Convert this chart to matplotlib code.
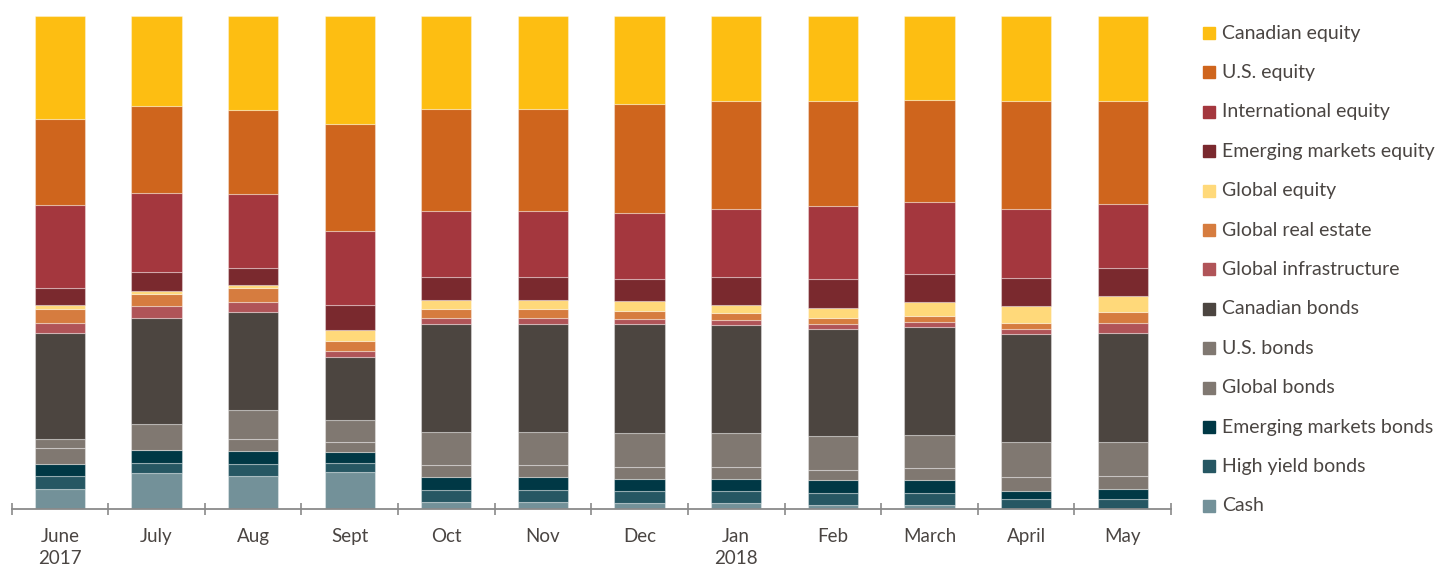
import numpy as np
import matplotlib.pyplot as plt
from matplotlib.patches import Rectangle

plt.rcParams['font.family'] = ['Lato', 'DejaVu Sans']

# Months on the x axis
months = ['June\n2017', 'July', 'Aug', 'Sept', 'Oct', 'Nov', 'Dec',
          'Jan\n2018', 'Feb', 'March', 'April', 'May']

# Asset mix in %, listed bottom to top of each bar
cash            = [4.1, 7.2, 6.6, 7.4, 1.4, 1.4, 1.2, 1.2, 0.9, 0.8, 0.0, 0.0]
high_yield      = [2.6, 2.2, 2.5, 2.0, 2.4, 2.4, 2.5, 2.5, 2.3, 2.5, 2.0, 2.0]
em_bonds        = [2.4, 2.6, 2.6, 2.1, 2.6, 2.6, 2.3, 2.3, 2.6, 2.5, 1.7, 2.0]
global_bonds    = [3.2, 0.0, 2.5, 2.0, 2.5, 2.5, 2.5, 2.5, 2.1, 2.5, 2.7, 2.6]
us_bonds        = [1.9, 5.2, 5.9, 4.5, 6.8, 6.8, 7.0, 7.0, 7.0, 6.8, 7.2, 7.0]
cdn_bonds       = [21.6, 21.6, 19.9, 12.8, 22.0, 22.0, 22.0, 22.0, 21.7, 21.8, 22.0, 22.2]
global_infra    = [2.0, 2.4, 2.1, 1.3, 1.2, 1.2, 1.0, 1.0, 1.0, 1.2, 1.0, 2.0]
global_re       = [2.8, 2.4, 2.7, 2.0, 1.8, 1.8, 1.8, 1.4, 1.2, 1.1, 1.3, 2.1]
global_equity   = [0.7, 0.6, 0.7, 2.2, 1.7, 1.7, 1.9, 1.7, 2.0, 2.8, 3.4, 3.4]
em_equity       = [3.5, 3.9, 3.4, 5.1, 4.7, 4.7, 4.5, 5.6, 5.8, 5.8, 5.6, 5.5]
intl_equity     = [16.8, 16.0, 15.0, 14.9, 13.4, 13.4, 13.4, 13.9, 14.9, 14.6, 14.1, 13.0]
us_equity       = [17.6, 17.6, 17.2, 21.8, 20.9, 20.9, 22.2, 22.0, 21.3, 20.8, 22.0, 21.0]
cdn_equity      = [20.8, 18.2, 19.0, 21.8, 18.8, 18.8, 17.8, 17.2, 17.2, 17.0, 17.2, 17.2]

labels = ['Cash', 'High yield bonds', 'Emerging markets bonds', 'Global bonds',
          'U.S. bonds', 'Canadian bonds', 'Global infrastructure',
          'Global real estate', 'Global equity', 'Emerging markets equity',
          'International equity', 'U.S. equity', 'Canadian equity']
colors = ['#739199', '#265763', '#003845', '#807871', '#807871', '#4c4540',
          '#b05458', '#d67c3f', '#ffd97a', '#7a292e', '#a4373e', '#cf651d',
          '#fdbe12']

series = np.array([cash, high_yield, em_bonds, global_bonds, us_bonds,
                   cdn_bonds, global_infra, global_re, global_equity,
                   em_equity, intl_equity, us_equity, cdn_equity])
series = series / series.sum(axis=0) * 100  # each bar is 100 %

fig = plt.figure(figsize=(14.43, 5.68), dpi=100)
ax = fig.add_axes([0.008, 0.1039, 0.8035, 0.8679])

x = np.arange(len(months))
bottom = np.zeros(len(months))
for vals, lab, col in zip(series, labels, colors):
    ax.bar(x, vals, bottom=bottom, width=0.52, color=col, label=lab,
           edgecolor=(1, 1, 1, 0.35), linewidth=0.8)
    bottom += vals

ax.set_xlim(-0.5, len(months) - 0.5)
ax.set_ylim(0, 100)
for s in ['top', 'right', 'left']:
    ax.spines[s].set_visible(False)
ax.spines['bottom'].set_color('#8a8a8a')
ax.spines['bottom'].set_linewidth(1.3)
ax.set_yticks([])

ax.set_xticks(x)
ax.set_xticklabels(months, fontsize=13.5, color='#4a4542', linespacing=1.3,
                   va='top')
ax.tick_params(axis='x', which='major', length=0, pad=14)
ax.set_xticks(np.arange(-0.5, len(months)), minor=True)
ax.tick_params(axis='x', which='minor', direction='inout', length=9,
               width=1.2, color='#8a8a8a')

# legend, top entry first
W, H = 1443, 568
for i, (lab, col) in enumerate(zip(labels[::-1], colors[::-1])):
    yc = 33 + i * 39.4
    fig.patches.append(Rectangle((1203 / W, 1 - (yc + 6) / H), 12 / W, 12 / H,
                                 transform=fig.transFigure, color=col))
    fig.text(1222 / W, 1 - yc / H, lab, fontsize=14, color='#4a4542',
             va='center', ha='left')

fig.savefig('out.png', dpi=100)
